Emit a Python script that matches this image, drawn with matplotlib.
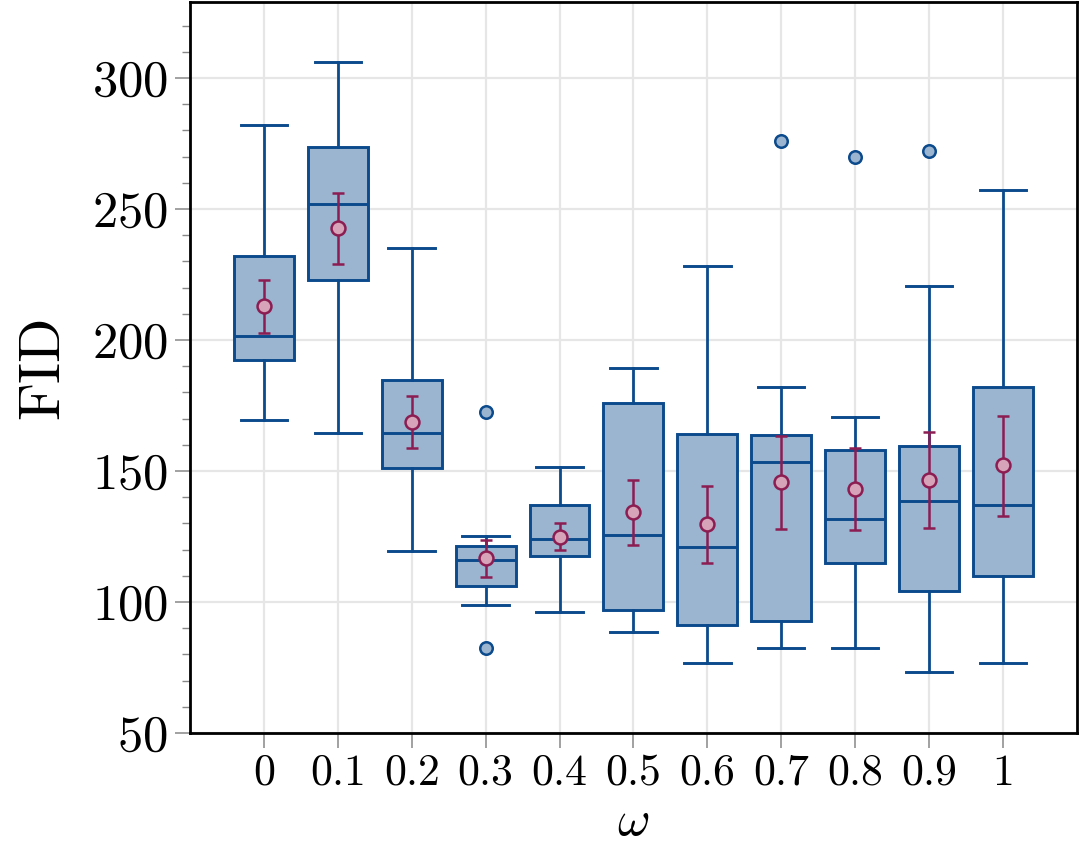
import numpy as np
import matplotlib
matplotlib.use("Agg")
import matplotlib.pyplot as plt
from matplotlib.ticker import MultipleLocator

plt.rcParams['font.family'] = 'serif'
plt.rcParams['font.serif'] = ['cmr10']
plt.rcParams['mathtext.fontset'] = 'cm'
plt.rcParams['axes.formatter.use_mathtext'] = True

omega_labels = ['0', '0.1', '0.2', '0.3', '0.4', '0.5', '0.6', '0.7', '0.8', '0.9', '1']

# box statistics
whis_hi = [282.0, 306.1, 235.0, 125.2, 151.6, 189.2, 228.2, 182.2, 170.5, 220.5, 257.3]
q3      = [232.0, 273.5, 184.7, 121.4, 137.1, 176.1, 164.0, 163.7, 158.1, 159.7, 182.1]
median  = [201.5, 252.0, 164.5, 116.0, 124.0, 125.5, 121.0, 153.3, 131.8, 138.7, 136.9]
q1      = [192.2, 223.0, 151.1, 106.1, 117.4,  96.9,  91.1,  92.7, 114.9, 104.1, 109.8]
whis_lo = [169.5, 164.5, 119.5,  98.9,  96.1,  88.5,  76.7,  82.6,  82.4,  73.1,  76.6]
outliers = [[], [], [], [172.5, 82.4], [], [], [], [275.8], [269.7], [272.3], []]

# mean with its interval
mean     = [212.8, 242.7, 168.8, 116.8, 124.9, 134.2, 129.7, 145.8, 143.1, 146.7, 152.1]
mean_lo  = [202.8, 229.0, 158.9, 109.6, 119.8, 121.8, 114.8, 128.0, 127.3, 128.3, 133.0]
mean_hi  = [222.8, 256.2, 178.6, 123.8, 130.0, 146.6, 144.3, 163.4, 158.7, 164.9, 170.9]

box_edge = '#0b4a8c'
box_face = '#9bb4cf'
mean_col = '#8c1d52'
mean_face = '#d6a3b8'

fig = plt.figure(figsize=(10.8, 8.58), dpi=100)
ax = fig.add_axes([0.176, 0.1457, 0.821, 0.852])

pos = np.arange(len(omega_labels))
stats = []
for i in range(len(omega_labels)):
    stats.append(dict(med=median[i], q1=q1[i], q3=q3[i],
                      whislo=whis_lo[i], whishi=whis_hi[i],
                      fliers=outliers[i]))

ax.bxp(stats, positions=pos, widths=0.81, capwidths=0.63, patch_artist=True,
       showfliers=True,
       boxprops=dict(facecolor=box_face, edgecolor=box_edge, linewidth=2.1),
       medianprops=dict(color=box_edge, linewidth=2.1),
       whiskerprops=dict(color=box_edge, linewidth=2.0),
       capprops=dict(color=box_edge, linewidth=2.1),
       flierprops=dict(marker='o', markerfacecolor=box_face, markeredgecolor=box_edge,
                       markersize=9, markeredgewidth=1.8),
       zorder=3)

mean = np.array(mean)
yerr = np.vstack([mean - np.array(mean_lo), np.array(mean_hi) - mean])
ax.errorbar(pos, mean, yerr=yerr, fmt='o', color=mean_col, ecolor=mean_col,
            markerfacecolor=mean_face, markeredgecolor=mean_col, markersize=10,
            markeredgewidth=1.8, elinewidth=1.8, capsize=4.5, capthick=1.8, zorder=5)

ax.set_xlim(-1, 11)
ax.set_ylim(50, 329)
ax.set_xticks(pos)
ax.set_xticklabels(omega_labels)
ax.set_yticks([50, 100, 150, 200, 250, 300])
ax.yaxis.set_minor_locator(MultipleLocator(10))

ax.grid(True, which='major', color='#e6e6e6', linewidth=1.6, zorder=0)
ax.set_axisbelow(True)
for s in ax.spines.values():
    s.set_linewidth(2.0)
    s.set_color('black')

ax.tick_params(axis='both', which='major', direction='out', length=11, width=1.1,
               color='#888888')
ax.tick_params(axis='x', which='major', labelsize=31.5, pad=4)
ax.tick_params(axis='y', which='major', labelsize=36.5, pad=5)
ax.tick_params(axis='y', which='minor', direction='out', length=6, width=1.0,
               color='#888888')

ax.set_xlabel(r'$\omega$', fontsize=36, labelpad=4)
ax.set_ylabel('FID', fontsize=42, labelpad=16)

fig.savefig('out.png', dpi=100)
